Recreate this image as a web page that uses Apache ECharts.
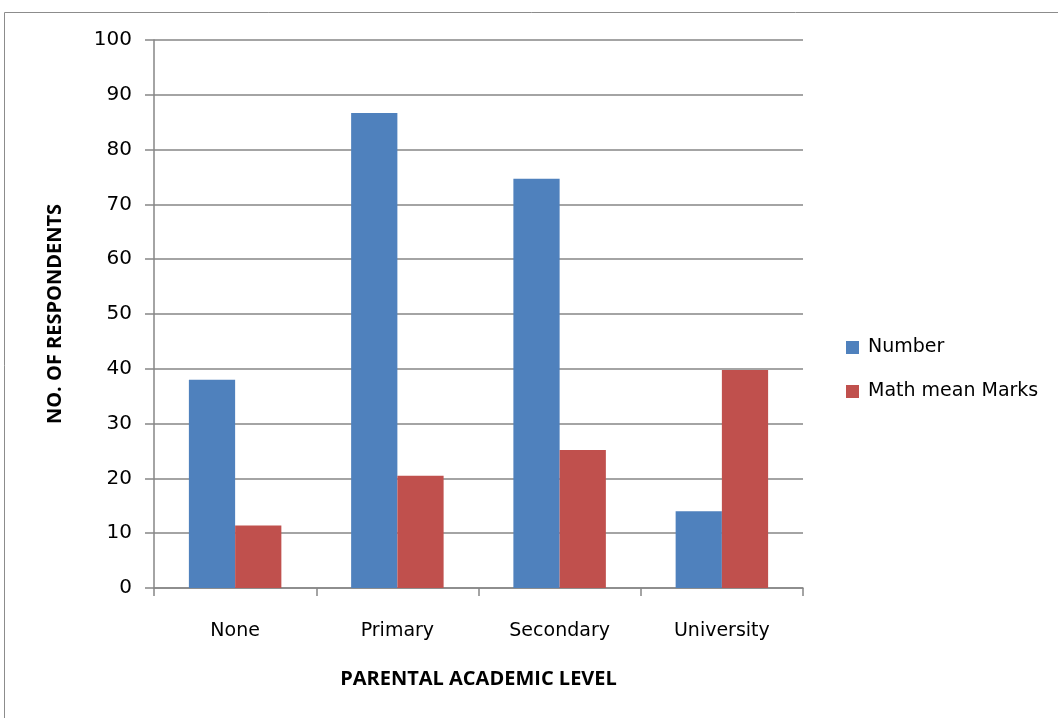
<!DOCTYPE html>
<html>
<head>
<meta charset="utf-8">
<script src="https://cdn.jsdelivr.net/npm/echarts@6/dist/echarts.min.js"></script>
<style>
html,body{margin:0;padding:0;background:#fff;}
#chart{width:1058px;height:718px;}
</style>
</head>
<body>
<div id="chart"></div>
<script>
const categories = ['None', 'Primary', 'Secondary', 'University'];
const numberValues = [38, 86.7, 74.7, 14];
const mathMeanMarks = [11.4, 20.5, 25.2, 39.8];
const seriesNames = ['Number', 'Math mean Marks'];
const yTitle = 'NO. OF RESPONDENTS';
const xTitle = 'PARENTAL ACADEMIC LEVEL';

const chart = echarts.init(document.getElementById('chart'));
const axisGray = '#868686';
const font = '"DejaVu Sans", sans-serif';
const titleFont = '"Open Sans", "Noto Sans", sans-serif';
chart.setOption({
  animation: false,
  backgroundColor: '#fff',
  graphic: [{
    type: 'rect',
    shape: {x: 4.5, y: 12.5, width: 1100, height: 800},
    style: {fill: 'none', stroke: '#8c8c8c', lineWidth: 1},
    silent: true
  }],
  grid: {left: 154, top: 40, right: 255, bottom: 130},
  legend: {
    orient: 'vertical',
    left: 846,
    top: 338,
    padding: 0,
    itemWidth: 13,
    itemHeight: 13,
    itemGap: 25,
    icon: 'rect',
    textStyle: {fontFamily: font, fontSize: 19, color: '#000', padding: [0, 0, 0, 4]},
    data: seriesNames
  },
  xAxis: {
    type: 'category',
    data: categories,
    name: xTitle,
    nameLocation: 'middle',
    nameGap: 81,
    nameTextStyle: {fontFamily: titleFont, fontSize: 20, fontWeight: 'bold', color: '#000'},
    axisLine: {lineStyle: {color: axisGray, width: 1.5}},
    axisTick: {show: true, length: 8, lineStyle: {color: axisGray, width: 1.5}},
    axisLabel: {fontFamily: font, fontSize: 19, color: '#000', margin: 34}
  },
  yAxis: {
    type: 'value',
    min: 0,
    max: 100,
    interval: 10,
    name: yTitle,
    nameLocation: 'middle',
    nameGap: 89,
    nameRotate: 90,
    nameTextStyle: {fontFamily: titleFont, fontSize: 20, fontWeight: 'bold', color: '#000'},
    axisLine: {show: true, lineStyle: {color: axisGray, width: 1.5}},
    axisTick: {show: true, length: 9, lineStyle: {color: axisGray, width: 1.5}},
    axisLabel: {fontFamily: font, fontSize: 20, color: '#000', margin: 22},
    splitLine: {lineStyle: {color: axisGray, width: 1.5}}
  },
  series: [
    {
      name: seriesNames[0],
      type: 'bar',
      data: numberValues,
      barGap: '0%',
      barCategoryGap: '43%',
      itemStyle: {color: '#4f81bd'}
    },
    {
      name: seriesNames[1],
      type: 'bar',
      data: mathMeanMarks,
      barGap: '0%',
      barCategoryGap: '43%',
      itemStyle: {color: '#c0504d'}
    }
  ]
});
</script>
</body>
</html>
